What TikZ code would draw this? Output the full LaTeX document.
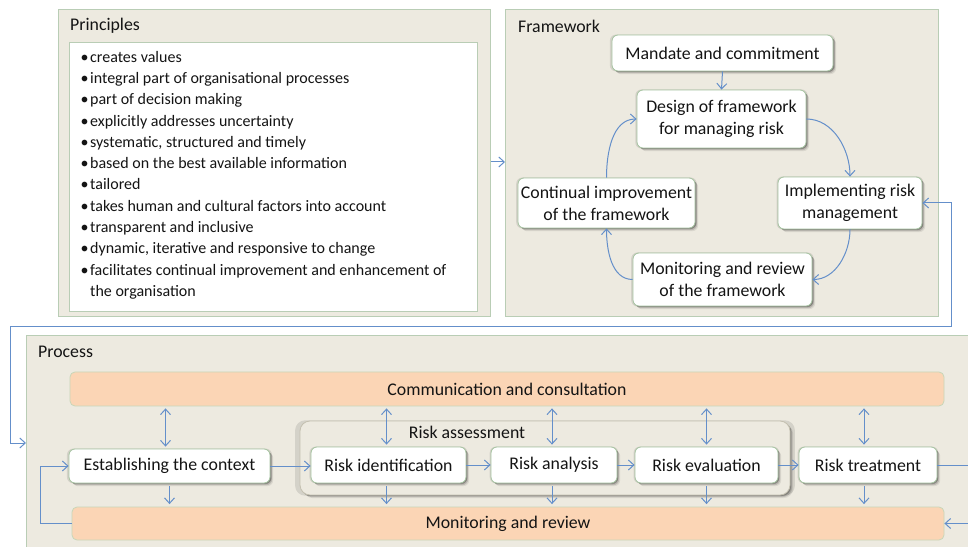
\documentclass[tikz,border=0pt]{standalone}
\usepackage{fontspec}
\setmainfont{Carlito}
\usetikzlibrary{arrows.meta,shadows,calc}
\definecolor{panelfill}{RGB}{237,234,224}
\definecolor{panelborder}{RGB}{185,205,181}
\definecolor{boxborder}{RGB}{165,195,160}
\definecolor{bandfill}{RGB}{251,213,181}
\definecolor{bandborder}{RGB}{200,214,184}
\definecolor{arrowcol}{RGB}{100,143,202}
\definecolor{textcol}{RGB}{20,20,20}
\definecolor{groupborder}{RGB}{196,192,176}
\newcommand\boxfont{\fontsize{17.8}{22}\selectfont}
\newcommand\listfont{\fontsize{16}{21.3}\selectfont}
\begin{document}
\begin{tikzpicture}[x=1pt,y=1pt,
  panel/.style={draw=panelborder, line width=1.4pt, fill=panelfill, inner sep=0pt, anchor=north west},
  whitepanel/.style={draw=panelborder, line width=1.2pt, fill=white, inner sep=0pt, anchor=north west},
  softshadow/.style={drop shadow={shadow xshift=3.2pt, shadow yshift=-3.2pt, fill=black, opacity=0.08},
                     drop shadow={shadow xshift=2.2pt, shadow yshift=-2.2pt, fill=black, opacity=0.14},
                     drop shadow={shadow xshift=1.2pt, shadow yshift=-1.2pt, fill=black, opacity=0.22},
                     drop shadow={shadow xshift=0pt, shadow yshift=0pt, shadow scale=1.02, fill=black, opacity=0.10}},
  box/.style={draw=boxborder, line width=0.8pt, fill=white, rounded corners=6pt, inner sep=0pt,
              align=center, font=\boxfont, text=textcol, softshadow},
  band/.style={draw=bandborder, line width=0.8pt, fill=bandfill, rounded corners=5pt, inner sep=0pt,
               font=\boxfont, text=textcol},
  group/.style={draw=groupborder, line width=0.8pt, fill=panelfill, rounded corners=10pt, inner sep=0pt,
                softshadow},
  title/.style={anchor=west, font=\boxfont, text=textcol, inner sep=0pt},
  tip/.tip={Straight Barb[length=5.5pt,width=10pt]},
  conn/.style={draw=arrowcol, line width=1pt, -tip},
  conn2/.style={draw=arrowcol, line width=1pt, tip-tip}]

\useasboundingbox (0,0) rectangle (968,546);
\clip (0,0) rectangle (968,546);

% ---------- panels ----------
\node[panel, minimum width=432, minimum height=307] (princ) at (58,537) {};
\node[panel, minimum width=433, minimum height=307] (frame) at (505,537) {};
\node[panel, minimum width=960, minimum height=240] (proc) at (26,211) {};

\node[title] (princT) at (70,520) {Principles};
\node[title] (frameT) at (518,520) {Framework};
\node[title] (procT) at (38,194) {Process};

% ---------- principles list ----------
\node[whitepanel, minimum width=408, minimum height=269] (plist) at (69,504) {};
\node[anchor=north west, inner sep=0pt, font=\listfont, text=textcol] (ptext) at (80.5,499) {%
  \begin{tabular}{@{}l@{\hspace{1.5pt}}l@{}}
  \textbullet & creates values\\
  \textbullet & integral part of organisational processes\\
  \textbullet & part of decision making\\
  \textbullet & explicitly addresses uncertainty\\
  \textbullet & systematic, structured and timely\\
  \textbullet & based on the best available information\\
  \textbullet & tailored\\
  \textbullet & takes human and cultural factors into account\\
  \textbullet & transparent and inclusive\\
  \textbullet & dynamic, iterative and responsive to change\\
  \textbullet & facilitates continual improvement and enhancement of\\
              & the organisation
  \end{tabular}};

% ---------- framework ----------
\node[box, minimum width=221, minimum height=36] (mandate) at (722.5,493) {Mandate and commitment};
\node[box, minimum width=169, minimum height=58] (design) at (721.5,427) {Design of framework\\for managing risk};
\node[box, minimum width=177, minimum height=50] (contin) at (606.5,343) {Continual improvement\\of the framework};
\node[box, minimum width=144, minimum height=52] (impl) at (850,343) {Implementing risk\\management};
\node[box, minimum width=179, minimum height=53] (monfw) at (722.5,266.5) {Monitoring and review\\of the framework};

\draw[conn] (mandate.south) -- (design.north);
\draw[conn] (design.east) to[out=0,in=90,looseness=0.95] (impl.north);
\draw[conn] (impl.south) to[out=-90,in=0,looseness=0.95] (monfw.east);
\draw[conn] (monfw.west) to[out=180,in=-90,looseness=0.95] (contin.south);
\draw[conn] (contin.north) to[out=90,in=180,looseness=0.95] (design.west);

% principles -> framework
\draw[conn] (princ.east |- 0,384) -- (frame.west |- 0,384);

% ---------- process ----------
\node[band, minimum width=874, minimum height=34] (comm) at (507,157) {Communication and consultation};
\node[band, minimum width=872, minimum height=33] (monband) at (508,22.5) {Monitoring and review};

\node[group, minimum width=490, minimum height=74] (ragroup) at (545,88) {};
\node[inner sep=0pt, font=\boxfont, text=textcol] (raT) at (467,114) {Risk assessment};

\node[box, minimum width=201, minimum height=34] (estab) at (169.5,80) {Establishing the context};
\node[box, minimum width=155, minimum height=36] (riskid) at (388.5,81) {Risk identification};
\node[box, minimum width=126, minimum height=36] (analysis) at (554,81) {Risk analysis};
\node[box, minimum width=143, minimum height=36] (evalu) at (706.5,81) {Risk evaluation};
\node[box, minimum width=138, minimum height=36] (treat) at (868,81) {Risk treatment};

% horizontal flow
\draw[conn] (estab.east |- 0,80) -- (riskid.west |- 0,80);
\draw[conn] (riskid) -- (analysis);
\draw[conn] (analysis) -- (evalu);
\draw[conn] (evalu) -- (treat);

% communication <-> steps
\draw[conn2, shorten <=2pt, shorten >=2pt] ([xshift=-4pt]comm.south -| estab) -- ([xshift=-4pt]estab.north);
\draw[conn2, shorten <=2pt, shorten >=2pt] ([xshift=-2pt]comm.south -| riskid) -- ([xshift=-2pt]riskid.north);
\draw[conn2, shorten <=2pt, shorten >=2pt] ([xshift=-2pt]comm.south -| analysis) -- ([xshift=-2pt]analysis.north);
\draw[conn2, shorten <=2pt, shorten >=2pt] (comm.south -| evalu) -- (evalu.north);
\draw[conn2, shorten <=2pt, shorten >=2pt] ([xshift=-4pt]comm.south -| treat) -- ([xshift=-4pt]treat.north);

% steps -> monitoring
\draw[conn, shorten <=3pt, shorten >=2.5pt] (estab.south) -- (monband.north -| estab);
\draw[conn, shorten <=3pt, shorten >=2.5pt] ([xshift=-2pt]riskid.south) -- ([xshift=-2pt]monband.north -| riskid);
\draw[conn, shorten <=3pt, shorten >=2.5pt] ([xshift=-2pt]analysis.south) -- ([xshift=-2pt]monband.north -| analysis);
\draw[conn, shorten <=3pt, shorten >=2.5pt] (evalu.south) -- (monband.north -| evalu);
\draw[conn, shorten <=3pt, shorten >=2.5pt] ([xshift=-4pt]treat.south) -- ([xshift=-4pt]monband.north -| treat);

% monitoring -> establishing the context
\draw[conn] (monband.west) -- (40,22.5) -- (40,80) -- (estab.west);

% risk treatment loop (leaves the picture on the right)
\draw[conn] (treat.east) -- (976,81) -- (976,22.5) -- (monband.east);

% process <-> implementing
\draw[conn2] (proc.west |- 0,103) -- (10,103) -- (10,219) -- (951,219) -- (951,343) -- (impl.east);

\end{tikzpicture}
\end{document}
